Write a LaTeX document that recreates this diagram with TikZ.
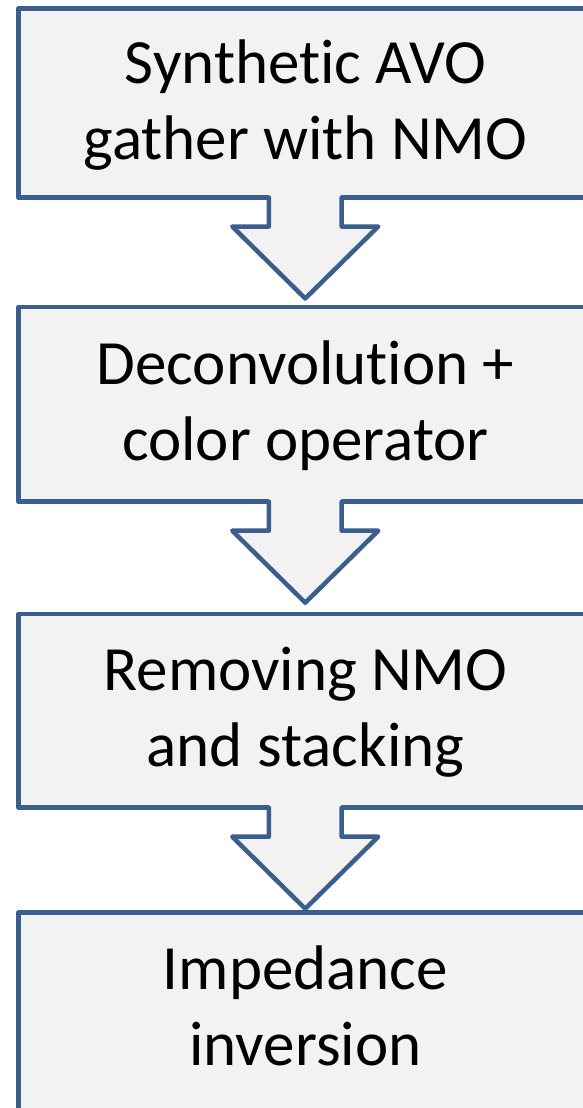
\documentclass[tikz,border=0pt]{standalone}
\usepackage{fontspec}
\setmainfont{Carlito}[Ligatures={NoCommon,NoContextual,NoRare},RawFeature={-liga;-clig;-dlig;-calt}]
\usetikzlibrary{calc}
\definecolor{bordc}{HTML}{3B5E8C}
\definecolor{fillc}{HTML}{F2F2F2}
\tikzset{
  x=1pt, y=-1pt,
  box/.style={draw=bordc, fill=fillc, line width=4.5pt, line join=round, inner sep=0pt, outer sep=0pt, minimum width=573.5pt},
  lbl/.style={anchor=base, inner sep=0pt, font=\fontsize{63}{76}\selectfont, text=black},
  arrowfill/.style={fill=fillc},
  arrowline/.style={draw=bordc, line width=4.5pt, line join=round, line cap=round},
}
\newcommand{\flowarrow}[1]{%
  \fill[arrowfill] ($(#1.south)+(-36.4,-4)$) -- ($(#1.south)+(-36.4,29)$) -- ($(#1.south)+(-73,29)$) -- ($(#1.south)+(0,101)$) -- ($(#1.south)+(73,29)$) -- ($(#1.south)+(36.4,29)$) -- ($(#1.south)+(36.4,-4)$) -- cycle;
  \draw[arrowline] ($(#1.south)+(-36.4,0)$) -- ($(#1.south)+(-36.4,29)$) -- ($(#1.south)+(-73,29)$) -- ($(#1.south)+(0,101)$) -- ($(#1.south)+(73,29)$) -- ($(#1.south)+(36.4,29)$) -- ($(#1.south)+(36.4,0)$);
}
\begin{document}
\begin{tikzpicture}
\useasboundingbox (0,0) rectangle (582,1108);
\fill[white] (0,0) rectangle (582,1108);
\node[box, minimum height=189pt] (b1) at (305.25,103) {};
\node[box, minimum height=194.7pt] (b2) at (305.25,404.35) {};
\node[box, minimum height=193.7pt] (b3) at (305.25,710.85) {};
\node[box, minimum height=200pt] (b4) at (305.25,1012.7) {};
\flowarrow{b1}
\flowarrow{b2}
\flowarrow{b3}
\node[lbl] (t1a) at (305.5,83) {Synthet\kern0pt ic AVO};
\node[lbl] (t1b) at (305.5,159) {gather with NMO};
\node[lbl] (t2a) at (305.5,384) {Deconvolut\kern0pt ion +};
\node[lbl] (t2b) at (305.5,460) {color operator};
\node[lbl] (t3a) at (305.5,690.7) {Removing NMO};
\node[lbl] (t3b) at (305.5,766.7) {and stacking};
\node[lbl] (t4a) at (305.5,989) {Impedance};
\node[lbl] (t4b) at (305.5,1065) {inversion};
\end{tikzpicture}
\end{document}
